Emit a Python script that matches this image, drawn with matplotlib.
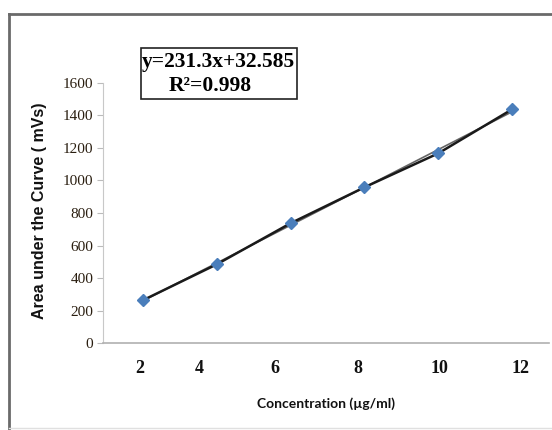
import numpy as np
import matplotlib.pyplot as plt
from matplotlib.lines import Line2D
from matplotlib.patches import Rectangle

# data (x index 1..6, Excel category style)
idx = [1, 2, 3, 4, 5, 6]
area = [263, 484, 737, 958, 1167, 1438]
conc_labels = ['2', '4', '6', '8', '10', '12']
# the printed labels sit a bit off the points in the original
label_pos = [0.96, 1.77, 2.79, 3.91, 5.01, 6.11]
yticks = [0, 200, 400, 600, 800, 1000, 1200, 1400, 1600]

W, H = 552, 430
fig = plt.figure(figsize=(W/100, H/100), dpi=100)
ax = fig.add_axes([0.1866, 0.2023, 0.808, 0.6047])

# linear trend line
m, c = np.polyfit(idx, area, 1)
xs = np.array([1, 6])
ax.plot(xs, m*xs + c, color='#666666', lw=1.2, zorder=2)
ax.plot(idx, area, color='#1a1a1a', lw=1.8, marker='D', ms=6.5,
        mfc='#4a7ebb', mec='#4a7ebb', zorder=3)

ax.set_xlim(0.46, 6.5)
ax.set_ylim(0, 1600)
ax.set_yticks(yticks)
ax.set_yticklabels([str(v) for v in yticks], family='Liberation Serif',
                   fontsize=11, color='#2a1e10')
ax.tick_params(axis='y', length=4, color='#bbbbbb', pad=3)
ax.set_xticks(label_pos)
ax.set_xticklabels(conc_labels, family='Liberation Serif', fontsize=13,
                   fontweight='bold', color='#111111')
ax.tick_params(axis='x', length=0, pad=12)

for s in ['top', 'right']:
    ax.spines[s].set_visible(False)
ax.spines['left'].set_color('#c8c8c8')
ax.spines['bottom'].set_color('#b0b0b0')
ax.spines['bottom'].set_linewidth(1.2)

ax.set_ylabel('Area under the Curve ( mVs)', family='Liberation Sans',
              fontweight='bold', fontsize=11.5, color='#111111')
ax.yaxis.set_label_coords(-0.125, 0.51)
ax.set_xlabel('Concentration (µg/ml)', family='Lato', fontweight='bold',
              fontsize=10, color='#111111')
ax.xaxis.set_label_coords(0.5, -0.21)

# equation box
fig.add_artist(Rectangle((141/W, 1-99/H), 156/W, 51/H, transform=fig.transFigure,
                         fc='white', ec='#222222', lw=1.2))
fig.text(142/W, 1-62/H, 'y=231.3x+32.585', family='Liberation Serif',
         fontweight='bold', fontsize=15.5, va='center', ha='left')
fig.text(169/W, 1-86/H, 'R²=0.998', family='Liberation Serif',
         fontweight='bold', fontsize=15.5, va='center', ha='left')

# outer frame (top and left edges visible)
fig.add_artist(Line2D([9/W, 1], [1-14/H, 1-14/H], color='#6a6a6a', lw=2))
fig.add_artist(Line2D([9/W, 9/W], [0, 1-14/H], color='#6a6a6a', lw=2))
fig.add_artist(Line2D([9/W, 1], [2/H, 2/H], color='#e0e0e0', lw=1))

fig.savefig('out.png', dpi=100)
